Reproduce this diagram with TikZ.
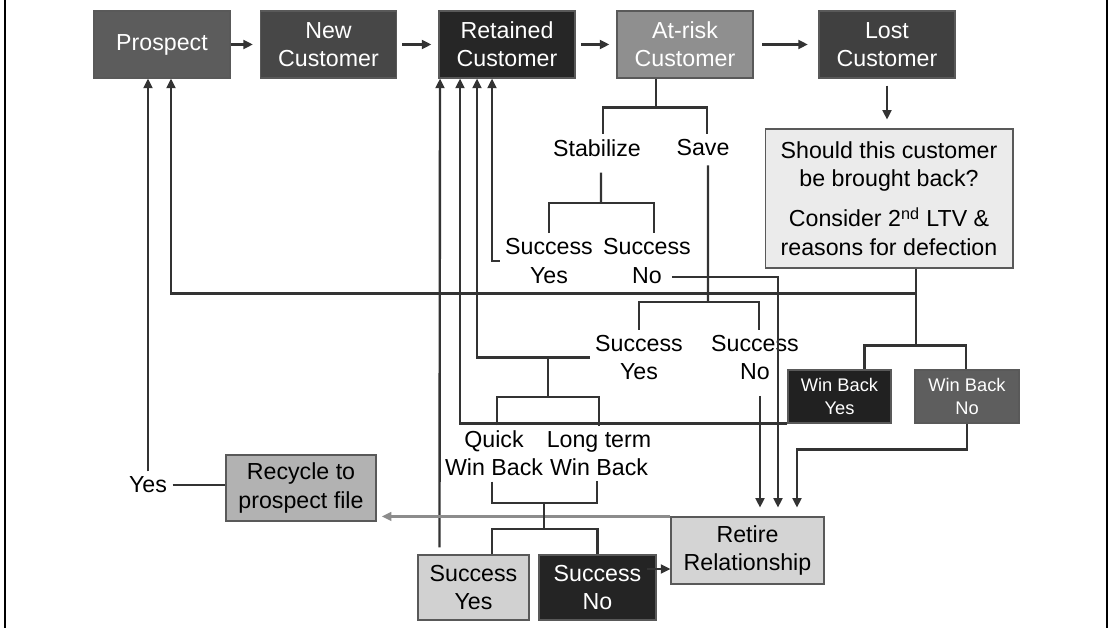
\documentclass[tikz,border=0pt]{standalone}
\usepackage{fontspec}
\setmainfont{Liberation Sans}
\usetikzlibrary{arrows.meta}

\begin{document}
\begin{tikzpicture}[x=0.02cm,y=-0.02cm,
  >={Triangle[length=5.5pt,width=5pt]},
  every node/.style={font=\fontsize{13.2}{16}\selectfont,align=center},
  box/.style={draw=black!65,line width=0.6pt,minimum width=2.72cm,minimum height=1.34cm,inner sep=1pt,text=white},
  lbl/.style={inner sep=3pt},
  line/.style={draw=black!80,line width=1.35pt},
  arr/.style={line,->},
  grayarr/.style={draw=black!45,line width=1.2pt,->,shorten >=3pt}]

\useasboundingbox (0,0) rectangle (1110,628);
\draw[line width=1.2pt] (5,0) -- (5,628);
\draw[line width=1.2pt] (1107,0) -- (1107,628);

\node[box,fill=black!64] (prospect) at (162,44.5) {Prospect};
\node[box,fill=black!72] (newc) at (328.5,44.5) {New\\Customer};
\node[box,fill=black!85] (retained) at (507,44.5) {Retained\\Customer};
\node[box,fill=black!44] (atrisk) at (685,44.5) {At-risk\\Customer};
\node[box,fill=black!75] (lost) at (887,44.5) {Lost\\Customer};

\node[box,fill=black!8,text=black,minimum width=4.96cm,minimum height=2.78cm] (question) at (889,198.5)
  {Should this customer\\be brought back?\\[7pt]Consider 2\textsuperscript{nd} LTV \&\\reasons for defection};

\node[lbl] (stabilize) at (597,148) {Stabilize};
\node[lbl] (save) at (703,148) {Save};
\node[lbl] (stabyes) at (549,261) {Success\\Yes};
\node[lbl] (stabno) at (647,261) {Success\\No};
\node[lbl] (saveyes) at (639,357.5) {Success\\Yes};
\node[lbl] (saveno) at (755,357.5) {Success\\No};
\node[lbl] (quick) at (494,453.5) {Quick\\Win Back};
\node[lbl] (longterm) at (599,453.5) {Long term\\Win Back};
\node[lbl] (yestxt) at (148,485) {Yes};

\node[box,fill=black!87,font=\fontsize{10.4}{13}\selectfont,minimum width=2.06cm,minimum height=1.06cm] (winyes) at (839.5,396.5) {Win Back\\Yes};
\node[box,fill=black!63,font=\fontsize{10.4}{13}\selectfont,minimum width=2.08cm,minimum height=1.06cm] (winno) at (967,396.5) {Win Back\\No};

\node[box,fill=black!30,text=black,minimum width=3cm,minimum height=1.32cm] (recycle) at (301,488) {Recycle to\\prospect file};
\node[box,fill=black!17,text=black,minimum width=3.06cm] (retire) at (747.5,550.5) {Retire\\Relationship};
\node[box,fill=black!18,text=black,minimum width=2.22cm,minimum height=1.3cm] (sucyes) at (473.5,587.5) {Success\\Yes};
\node[box,fill=black!86,minimum width=2.34cm,minimum height=1.3cm] (sucno) at (597.5,587.5) {Success\\No};

\draw[arr,shorten >=4pt] (prospect) -- (newc);
\draw[arr,shorten <=3pt,shorten >=4pt] (newc) -- (retained);
\draw[arr,shorten <=3pt,shorten >=4pt] (retained) -- (atrisk);
\draw[arr,shorten <=5pt,shorten >=6pt] (atrisk) -- (lost);
\draw[arr,shorten <=4pt,shorten >=5pt] (lost.south) -- (lost.south |- question.north);

\draw[line] ([xshift=-0.58cm]atrisk.south) -- ++(0,29) coordinate (aj);
\draw[line] ([xshift=0.12cm]stabilize.north) |- (aj) -| ([xshift=0.08cm]save.north);

\coordinate (sj) at (601,203);
\draw[line,shorten <=6pt] ([xshift=0.08cm]stabilize.south) -- (sj);
\draw[line] (stabyes.north) |- (sj) -| ([xshift=0.14cm]stabno.north);

\coordinate (vj) at (708,302);
\draw[line,shorten <=2pt] ([xshift=0.1cm]save.south) -- (vj);
\draw[line] (saveyes.north) |- (vj) -| ([xshift=0.08cm]saveno.north);

\draw[arr] (stabyes.west) -| ([xshift=-0.3cm]retained.south);
\draw[arr] (saveyes.west) -| ([xshift=-0.6cm]retained.south);
\draw[arr] (winyes.south west) -| ([xshift=-0.94cm]retained.south);
\draw[arr,shorten <=4pt] ([xshift=0.44cm]sucyes.north west) -- ([xshift=-1.34cm]retained.south);

\draw[arr] (yestxt.north) -- (yestxt.north |- prospect.south);
\coordinate (qs) at ([xshift=0.54cm]question.south);
\coordinate (qb) at ([yshift=-0.5cm]qs);
\draw[line] (qs) -- ++(0,77) coordinate (wj);
\draw[arr] (qb) -| ([xshift=0.18cm]prospect.south);
\draw[line] ([xshift=0.5cm]winyes.north) |- (wj) -| ([xshift=-0.02cm]winno.north);

\draw[line] (yestxt.east) -- (yestxt.east -| recycle.west);
\draw[grayarr] (retire.north west) -- (retire.north west -| recycle.east);

\draw[arr,shorten >=5pt] ([shift={(0.5cm,-0.32cm)}]stabno.center) -| ([xshift=0.61cm]retire.north);
\draw[arr,shorten <=6pt,shorten >=5pt] ([xshift=0.25cm]retire.north |- saveno.south) -- ([xshift=0.25cm]retire.north);
\draw[arr,shorten >=5pt] (winno.south) -- ++(0,26) -| ([xshift=0.99cm]retire.north);
\draw[arr] ([xshift=-0.2cm,yshift=0.37cm]sucno.east) -- ([yshift=0.37cm]sucno.east -| retire.west);

\coordinate (kj) at (548,397);
\draw[line] (kj |- saveyes.west) -- (kj);
\draw[line] ([xshift=0.06cm]quick.north) |- (kj) -| (longterm.north);
\coordinate (lj) at (544,503);
\draw[line] ([xshift=-0.04cm]quick.south) |- (lj) -| ([xshift=-0.04cm]longterm.south);
\draw[line] (lj) -- ++(0,26) coordinate (mj);
\draw[line] ([xshift=0.37cm]sucyes.north) |- (mj) -| (sucno.north);

\end{tikzpicture}
\end{document}
